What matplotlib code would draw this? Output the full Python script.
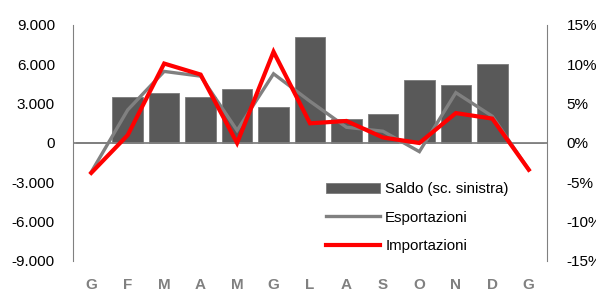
import numpy as np
import matplotlib.pyplot as plt
from matplotlib.ticker import FuncFormatter

plt.rcParams['font.family'] = ['Liberation Sans', 'DejaVu Sans']

# -------------------------------
# DATA
# -------------------------------
months = ["G", "F", "M", "A", "M", "G", "L", "A", "S", "O", "N", "D", "G"]
saldo = [100, 3490, 3840, 3510, 4120, 2750, 8110, 1830, 2190, 4810, 4400, 6030, 0]
esportazioni = [-3.7, 4.2, 9.1, 8.5, 1.6, 8.8, 5.3, 2.0, 1.5, -1.1, 6.4, 3.4, -3.4]
importazioni = [-3.8, 1.0, 10.1, 8.7, 0.0, 11.6, 2.5, 2.8, 0.7, 0.0, 3.8, 3.1, -3.4]

DARK = "#595959"
GREY = "#808080"
RED = "#FF0000"

# -------------------------------
# FIGURE
# -------------------------------
fig = plt.figure(figsize=(5.96, 2.91), dpi=100)
ax = fig.add_axes([73 / 596, 30 / 291, 474 / 596, 236 / 291])
ax2 = ax.twinx()

x = np.arange(len(months))
bars = ax.bar(x, saldo, width=0.84, color=DARK, edgecolor="#7a7a7a", linewidth=0.6,
              label="Saldo (sc. sinistra)", zorder=2)
ax.axhline(0, color=GREY, lw=1.3, zorder=3)

l1, = ax2.plot(x, esportazioni, color=GREY, lw=2.4, label="Esportazioni",
               solid_joinstyle="miter", zorder=4)
l2, = ax2.plot(x, importazioni, color=RED, lw=3, label="Importazioni",
               solid_joinstyle="miter", zorder=5)

ax.set_xlim(-0.5, len(months) - 0.5)
ax.set_ylim(-9000, 9000)
ax.set_yticks(np.arange(-9000, 9001, 3000))
ax.yaxis.set_major_formatter(FuncFormatter(lambda v, p: f"{int(v):,}".replace(",", ".")))
ax2.set_ylim(-15, 15)
ax2.set_yticks(np.arange(-15, 16, 5))
ax2.yaxis.set_major_formatter(FuncFormatter(lambda v, p: f"{int(v)}%"))

ax.set_xticks(x)
ax.set_xticklabels(months, fontweight="bold", color=GREY, fontsize=11)

for a in (ax, ax2):
    a.spines["top"].set_visible(False)
    a.spines["bottom"].set_visible(False)
    a.spines["left"].set_color(GREY)
    a.spines["right"].set_color(GREY)
    a.patch.set_visible(False)

ax.spines["right"].set_visible(False)
ax2.spines["left"].set_visible(False)
ax.tick_params(axis="y", length=0, pad=13, labelsize=11)
ax.tick_params(axis="x", length=0, pad=12)
ax2.tick_params(axis="y", length=0, pad=14, labelsize=11)

fig.legend([bars, l1, l2], ["Saldo (sc. sinistra)", "Esportazioni", "Importazioni"],
           loc="upper left", bbox_to_anchor=(326 / 596, 1 - 182 / 291),
           frameon=False, fontsize=10.8, handlelength=3.6, handletextpad=0.35,
           labelspacing=0.98, borderpad=0, borderaxespad=0)

fig.savefig("out.png", dpi=100)
